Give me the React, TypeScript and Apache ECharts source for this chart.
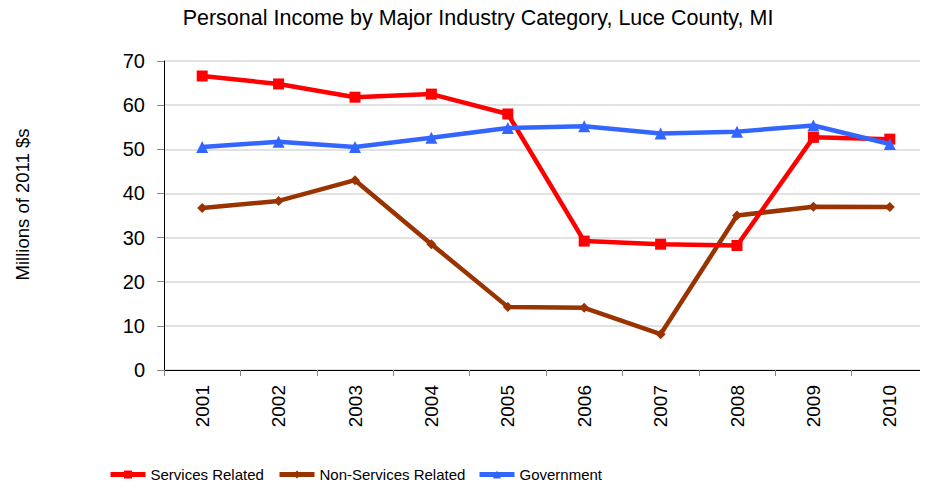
import React, { useEffect, useRef } from "react";
import * as echarts from "echarts";

const years = ["2001", "2002", "2003", "2004", "2005", "2006", "2007", "2008", "2009", "2010"];
const servicesRelated = [66.6, 64.8, 61.8, 62.5, 58.0, 29.2, 28.5, 28.2, 52.7, 52.3];
const nonServicesRelated = [36.7, 38.3, 43.0, 28.5, 14.3, 14.1, 8.1, 35.0, 37.0, 36.9];
const government = [50.5, 51.7, 50.5, 52.6, 54.8, 55.2, 53.6, 54.0, 55.4, 51.2];
const seriesNames = ["Services Related", "Non-Services Related", "Government"];
const yTicks = [0, 10, 20, 30, 40, 50, 60, 70];

const FONT = "Liberation Sans, Arial, sans-serif";

export default function App() {
  const ref = useRef<HTMLDivElement>(null);
  useEffect(() => {
    if (!ref.current) return;
    const chart = echarts.init(ref.current, undefined, { renderer: "svg" });
    const legendCommon = {
      top: 467,
      itemWidth: 35,
      itemHeight: 10,
      lineStyle: { width: 5 },
      textStyle: { fontFamily: FONT, fontSize: 15, color: "#000" },
      padding: 0,
    };
    chart.setOption({
      animation: false,
      backgroundColor: "#fff",
      title: {
        text: "Personal Income by Major Industry Category, Luce County, MI",
        left: 473,
        textAlign: "center",
        top: 2,
        textStyle: { fontFamily: FONT, fontSize: 21.5, fontWeight: "normal", color: "#000" },
      },
      legend: [
        { ...legendCommon, left: 108, data: [seriesNames[0]] },
        { ...legendCommon, left: 277, data: [seriesNames[1]] },
        { ...legendCommon, left: 477, data: [seriesNames[2]] },
      ],
      grid: { left: 164, top: 61, width: 767, height: 309 },
      xAxis: {
        type: "category",
        data: years,
        boundaryGap: true,
        axisLine: { lineStyle: { color: "#000", width: 1 } },
        axisTick: { show: true, length: 6, lineStyle: { color: "#888" } },
        axisLabel: { rotate: 90, fontFamily: FONT, fontSize: 19, color: "#000", margin: 15 },
      },
      yAxis: {
        type: "value",
        min: 0,
        max: 70,
        interval: 10,
        name: "Millions of 2011 $s",
        nameLocation: "middle",
        nameGap: 132,
        nameRotate: 90,
        nameTextStyle: { fontFamily: FONT, fontSize: 18.5, color: "#000", padding: [0, 0, 0, 22] },
        axisLine: { show: true, lineStyle: { color: "#000", width: 1 } },
        axisTick: { show: true, length: 7, lineStyle: { color: "#888" } },
        axisLabel: {
          fontFamily: FONT,
          fontSize: 20,
          color: "#000",
          margin: 19,
          formatter: (v: number) => (yTicks.includes(v) ? String(v) : ""),
        },
        splitLine: { lineStyle: { color: "#d9d9d9", width: 1.5 } },
      },
      graphic: [
        { type: "rect", shape: { x: 0, y: 78, width: 2, height: 10 }, style: { fill: "#0000ff" } },
        { type: "rect", shape: { x: 0, y: 237, width: 2, height: 10 }, style: { fill: "#0000ff" } },
      ],
      series: [
        {
          name: seriesNames[0],
          type: "line",
          data: servicesRelated,
          color: "#ff0000",
          symbol: "rect",
          symbolSize: 11,
          lineStyle: { width: 4.5 },
          z: 3,
        },
        {
          name: seriesNames[1],
          type: "line",
          data: nonServicesRelated,
          color: "#993300",
          symbol: "diamond",
          symbolSize: 10,
          lineStyle: { width: 4.5 },
          z: 2,
        },
        {
          name: seriesNames[2],
          type: "line",
          data: government,
          color: "#3366ff",
          symbol: "triangle",
          symbolSize: 12,
          lineStyle: { width: 4.5 },
          z: 4,
        },
      ],
    });
    return () => chart.dispose();
  }, []);
  return <div ref={ref} style={{ width: 928, height: 489, margin: -8 }} />;
}
